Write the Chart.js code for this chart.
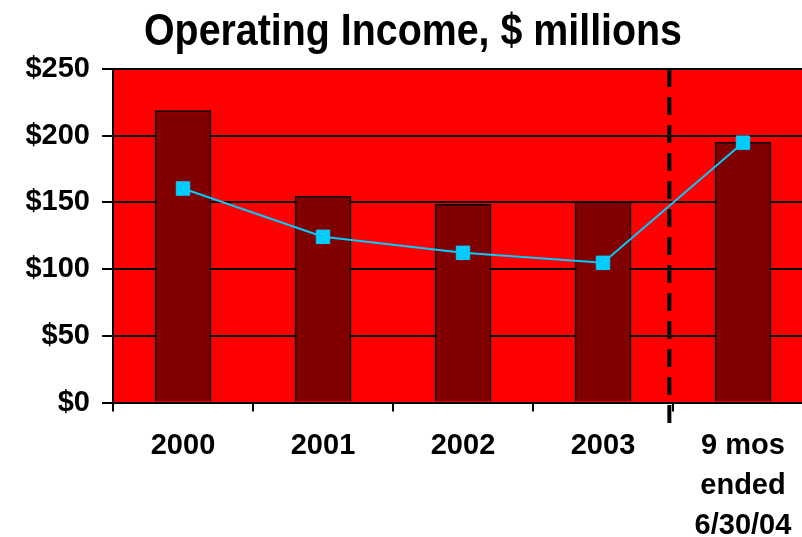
<!DOCTYPE html>
<html>
<head>
<meta charset="utf-8">
<title>Operating Income</title>
<script src="https://cdn.jsdelivr.net/npm/chart.js@4/dist/chart.umd.min.js"></script>
<style>
	html, body { margin: 0; padding: 0; overflow: hidden; background: #fff; }
	canvas { display: block; }
</style>
</head>
<body>
<canvas id="income" width="826" height="537"></canvas>
<script>
// categories and values, $ millions
const periods = ["2000", "2001", "2002", "2003", ["9 mos", "ended", "6/30/04"]];
const operatingIncome = [219, 155, 149, 151, 195.5];
const trendLine = [160.4, 124.2, 112.2, 104.7, 194.8];
const yTickLabels = ["$0", "$50", "$100", "$150", "$200", "$250"];
// divider sits just left of the boundary between 2003 and the partial year
const dividerAt = 3.474;

const chartTitle = "Operating Income, $ millions";
const labelFont = { family: "'Liberation Sans', Arial, sans-serif", size: 29, weight: "bold" };

// no narrow face installed, so squeeze the bold face horizontally
const narrowTitle = {
	id: "narrowTitle",
	afterDraw(chart) {
		const { ctx } = chart;
		ctx.save();
		ctx.font = "bold 44px 'Liberation Sans', Arial, sans-serif";
		ctx.fillStyle = "#000";
		ctx.textBaseline = "alphabetic";
		ctx.textAlign = "center";
		const w = ctx.measureText(chartTitle).width;
		const sx = 538 / w;
		ctx.translate(413, 45);
		ctx.scale(sx, 1);
		ctx.fillText(chartTitle, 0, 0);
		ctx.restore();
	},
};

const dividerPlugin = {
	id: "divider",
	beforeDatasetsDraw(chart) {
		const { ctx, chartArea, scales } = chart;
		const x = scales.x.getPixelForValue(dividerAt);
		ctx.save();
		ctx.strokeStyle = "#000";
		ctx.lineWidth = 4;
		ctx.setLineDash([18, 10]);
		ctx.beginPath();
		ctx.moveTo(x, chartArea.top);
		ctx.lineTo(x, chartArea.bottom + 21);
		ctx.stroke();
		ctx.restore();
	},
};

const chartAreaBg = {
	id: "chartAreaBg",
	beforeDraw(chart) {
		const { ctx, chartArea } = chart;
		ctx.save();
		ctx.fillStyle = "#ff0000";
		ctx.fillRect(chartArea.left, chartArea.top, chartArea.right - chartArea.left, chartArea.bottom - chartArea.top);
		ctx.restore();
	},
};

new Chart(document.getElementById("income").getContext("2d"), {
	data: {
		labels: periods,
		datasets: [
			{
				type: "line",
				data: trendLine,
				order: 0,
				borderColor: "#00ccff",
				borderWidth: 2,
				tension: 0,
				pointStyle: "rect",
				pointRadius: 9.5,
				pointBackgroundColor: "#00ccff",
				pointBorderColor: "#00ccff",
				pointBorderWidth: 1,
			},
			{
				type: "bar",
				data: operatingIncome,
				order: 1,
				backgroundColor: "#800000",
				borderColor: "#000",
				borderWidth: 2,
				categoryPercentage: 1,
				barPercentage: 0.405,
			},
		],
	},
	options: {
		responsive: false,
		animation: false,
		layout: { padding: { left: 0, right: 13, top: 69, bottom: 0 } },
		plugins: {
			legend: { display: false },
			tooltip: { enabled: false },
			title: { display: false },
		},
		scales: {
			x: {
				offset: true,
				grid: {
					offset: true,
					drawOnChartArea: false,
					color: "#000",
					lineWidth: 2,
					tickLength: 9,
				},
				border: { color: "#000", width: 2 },
				ticks: {
					color: "#000",
					font: { ...labelFont, lineHeight: 1.375 },
					padding: 14.5,
					maxRotation: 0,
					autoSkip: false,
				},
				afterFit(scale) {
					scale.height = 134.5;
				},
			},
			y: {
				min: 0,
				max: 250,
				grid: { color: "#000", lineWidth: 2, tickLength: 11 },
				border: { color: "#000", width: 2 },
				ticks: {
					stepSize: 50,
					color: "#000",
					font: labelFont,
					padding: 12,
					callback: (value, index) => yTickLabels[index],
				},
				afterFit(scale) {
					scale.width = 113;
				},
			},
		},
	},
	plugins: [chartAreaBg, dividerPlugin, narrowTitle],
});
</script>
</body>
</html>
